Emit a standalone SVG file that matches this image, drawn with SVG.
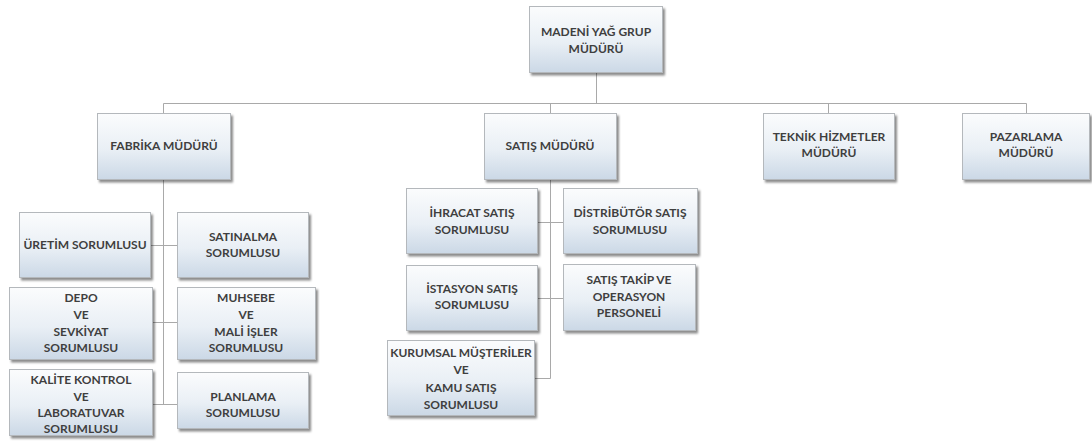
<svg xmlns="http://www.w3.org/2000/svg" width="1092" height="444" viewBox="0 0 1092 444">
  <style>
    .box { fill: url(#boxFill); stroke: #b4b8bc; stroke-width: 1; filter: url(#shadow); }
    .lbl { font-family: Lato, "Open Sans", "DejaVu Sans", sans-serif; font-weight: 700; font-size: 12px; fill: #3f3f3f; text-anchor: middle; }
    .conn { fill: none; stroke: #a9a9a9; stroke-width: 1; }
  </style>
  <defs>
    <linearGradient id="boxFill" x1="0" y1="0" x2="0" y2="1">
      <stop offset="0" stop-color="#fbfcfd"/>
      <stop offset="0.55" stop-color="#e9eff5"/>
      <stop offset="1" stop-color="#cbd8e6"/>
    </linearGradient>
    <filter id="shadow" x="-10%" y="-10%" width="130%" height="140%">
      <feDropShadow dx="2" dy="2.5" stdDeviation="1.3" flood-color="#000" flood-opacity="0.45"/>
    </filter>
  </defs>
  <rect width="1092" height="444" fill="#ffffff"/>

  <!-- connectors -->
  <g id="connectors" class="conn">
    <path d="M596.5 72 V103.5 M163.5 113 V103.5 H1026.5 V113 M550.5 103.5 V113 M828.5 103.5 V113"/>
    <path d="M163.5 179 V404.5 M150 245.5 H177 M152 322.5 H177 M152 404.5 H177"/>
    <path d="M550.5 180 V378.5 M537 222.5 H563 M537 298.5 H563 M534 378.5 H550.5"/>
  </g>

  <g id="grup-muduru">
    <rect class="box" x="529.5" y="6.5" width="133" height="66"/>
    <text class="lbl" x="596" y="36">MADENİ YAĞ GRUP</text>
    <text class="lbl" x="596" y="53">MÜDÜRÜ</text>
  </g>

  <g id="fabrika-muduru">
    <rect class="box" x="97.5" y="113.5" width="133" height="66"/>
    <text class="lbl" x="164" y="150">FABRİKA MÜDÜRÜ</text>
  </g>
  <g id="satis-muduru">
    <rect class="box" x="484.5" y="113.5" width="132" height="66"/>
    <text class="lbl" x="550" y="150">SATIŞ MÜDÜRÜ</text>
  </g>
  <g id="teknik-hizmetler-muduru">
    <rect class="box" x="763.5" y="113.5" width="131" height="66"/>
    <text class="lbl" x="829" y="141">TEKNİK HİZMETLER</text>
    <text class="lbl" x="829" y="157">MÜDÜRÜ</text>
  </g>
  <g id="pazarlama-muduru">
    <rect class="box" x="962.5" y="113.5" width="127" height="66"/>
    <text class="lbl" x="1026" y="141">PAZARLAMA</text>
    <text class="lbl" x="1026" y="157">MÜDÜRÜ</text>
  </g>

  <g id="uretim">
    <rect class="box" x="19.5" y="212.5" width="131" height="65"/>
    <text class="lbl" x="85" y="249">ÜRETİM SORUMLUSU</text>
  </g>
  <g id="satinalma">
    <rect class="box" x="177.5" y="212.5" width="131" height="65"/>
    <text class="lbl" x="243" y="241">SATINALMA</text>
    <text class="lbl" x="243" y="257">SORUMLUSU</text>
  </g>
  <g id="depo">
    <rect class="box" x="9.5" y="287.5" width="143" height="72"/>
    <text class="lbl" x="81" y="302">DEPO</text>
    <text class="lbl" x="81" y="319">VE</text>
    <text class="lbl" x="81" y="336">SEVKİYAT</text>
    <text class="lbl" x="81" y="352">SORUMLUSU</text>
  </g>
  <g id="muhasebe">
    <rect class="box" x="177.5" y="287.5" width="138" height="72"/>
    <text class="lbl" x="246" y="302">MUHSEBE</text>
    <text class="lbl" x="246" y="319">VE</text>
    <text class="lbl" x="246" y="336">MALİ İŞLER</text>
    <text class="lbl" x="246" y="352">SORUMLUSU</text>
  </g>
  <g id="kalite">
    <rect class="box" x="9.5" y="369.5" width="143" height="66"/>
    <text class="lbl" x="81" y="384">KALİTE KONTROL</text>
    <text class="lbl" x="81" y="401">VE</text>
    <text class="lbl" x="81" y="417">LABORATUVAR</text>
    <text class="lbl" x="81" y="433">SORUMLUSU</text>
  </g>
  <g id="planlama">
    <rect class="box" x="177.5" y="372.5" width="131" height="56"/>
    <text class="lbl" x="243" y="401">PLANLAMA</text>
    <text class="lbl" x="243" y="417">SORUMLUSU</text>
  </g>

  <g id="ihracat">
    <rect class="box" x="406.5" y="188.5" width="131" height="65"/>
    <text class="lbl" x="472" y="217">İHRACAT SATIŞ</text>
    <text class="lbl" x="472" y="234">SORUMLUSU</text>
  </g>
  <g id="distributor">
    <rect class="box" x="563.5" y="188.5" width="134" height="65"/>
    <text class="lbl" x="630" y="217">DİSTRİBÜTÖR SATIŞ</text>
    <text class="lbl" x="630" y="234">SORUMLUSU</text>
  </g>
  <g id="istasyon">
    <rect class="box" x="406.5" y="265.5" width="131" height="65"/>
    <text class="lbl" x="472" y="293">İSTASYON SATIŞ</text>
    <text class="lbl" x="472" y="309">SORUMLUSU</text>
  </g>
  <g id="satis-takip">
    <rect class="box" x="563.5" y="264.5" width="132" height="66"/>
    <text class="lbl" x="629" y="284">SATIŞ TAKİP VE</text>
    <text class="lbl" x="629" y="301">OPERASYON</text>
    <text class="lbl" x="629" y="317">PERSONELİ</text>
  </g>
  <g id="kurumsal">
    <rect class="box" x="387.5" y="340.5" width="147" height="75"/>
    <text class="lbl" x="461" y="357">KURUMSAL MÜŞTERİLER</text>
    <text class="lbl" x="461" y="374">VE</text>
    <text class="lbl" x="461" y="392">KAMU SATIŞ</text>
    <text class="lbl" x="461" y="409">SORUMLUSU</text>
  </g>
</svg>
